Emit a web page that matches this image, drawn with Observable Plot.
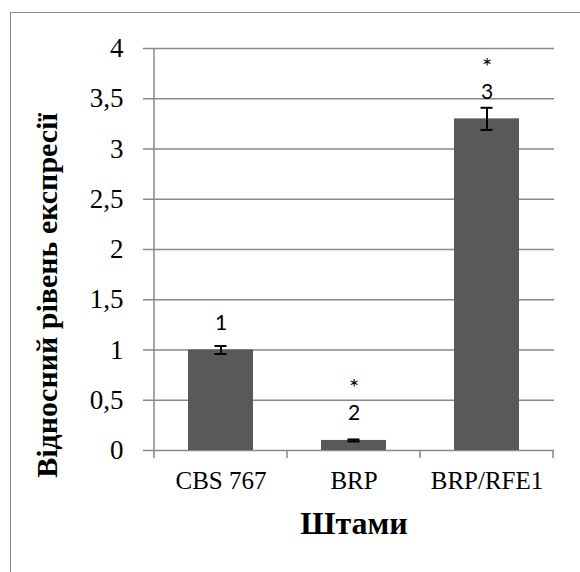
<!DOCTYPE html>
<html>
<head>
<meta charset="utf-8">
<script src="https://cdn.jsdelivr.net/npm/d3@7"></script>
<script src="https://cdn.jsdelivr.net/npm/@observablehq/plot@0.6"></script>
<style>
  html, body { margin: 0; padding: 0; background: #fff; }
  #wrap { position: relative; width: 580px; height: 572px; overflow: hidden; }
  #border { position: absolute; left: 10px; top: 12px; right: -10px; bottom: -10px;
            border-left: 1.5px solid #8a8a8a; border-top: 1.5px solid #8a8a8a; pointer-events: none; }
</style>
</head>
<body>
<div id="wrap"><div id="border"></div></div>
<script>
const categories = ["CBS 767", "BRP", "BRP/RFE1"];
const values = [1.0, 0.1, 3.30];
const errors = [0.04, 0.01, 0.11];
const groupLabels = ["1", "2", "3"];
const significance = ["", "*", "*"];
const yTicks = [0, 0.5, 1, 1.5, 2, 2.5, 3, 3.5, 4];
const yTitle = "Відносний рівень експресії";
const xTitle = "Штами";

const data = categories.map((c, i) => ({
  c, v: values[i], lo: values[i] - errors[i], hi: values[i] + errors[i],
  lab: groupLabels[i], sig: significance[i]
}));

const gray = "#898989";
const serif = "Liberation Serif, Times New Roman, serif";

function decor(index, scales) {
  const x = scales.x, y = scales.y;
  const ns = "http://www.w3.org/2000/svg";
  const g = document.createElementNS(ns, "g");
  g.setAttribute("stroke", gray);
  g.setAttribute("stroke-width", "1.5");
  const line = (x1, y1, x2, y2) => {
    const l = document.createElementNS(ns, "line");
    l.setAttribute("x1", x1); l.setAttribute("y1", y1);
    l.setAttribute("x2", x2); l.setAttribute("y2", y2);
    g.appendChild(l);
  };
  const bw = x.bandwidth ? x.bandwidth() : 0;
  const rng = x.range();
  const step = x.step ? x.step() : (rng[1] - rng[0]) / categories.length;
  const off = (step - bw) / 2;
  const y0 = y(0), yTop = y(yTicks[yTicks.length - 1]);
  const xs = categories.map(c => x(c) - off);
  xs.push(x(categories[categories.length - 1]) + bw + off);
  line(xs[0], yTop, xs[0], y0);
  xs.forEach(xb => line(xb, y0, xb, y0 + 8));
  return g;
}

const fmt = d => String(d).replace(".", ",");

const chart = Plot.plot({
  width: 580,
  height: 572,
  marginLeft: 153,
  marginRight: 26,
  marginTop: 48,
  marginBottom: 122,
  style: { fontFamily: serif, fontSize: "25px", color: "#000", background: "transparent" },
  x: { domain: categories, paddingInner: 0.514, paddingOuter: 0.257, axis: null },
  y: { domain: [0, 4], axis: null },
  marks: [
    Plot.ruleY(yTicks, { y: d => d, stroke: gray, strokeWidth: 1.5, insetLeft: -10 }),
    Plot.text(yTicks, { y: d => d, text: fmt, frameAnchor: "left", textAnchor: "end", lineAnchor: "middle",
      dx: -30, fontSize: 27, fontFamily: serif, fill: "#000" }),
    Plot.text(categories, { x: d => d, text: d => d, frameAnchor: "bottom", textAnchor: "middle",
      lineAnchor: "middle", dy: 30, fontSize: 25, fontFamily: serif, fill: "#000" }),
    Plot.barY(data, { x: "c", y: "v", fill: "#595959" }),
    decor,
    Plot.ruleX(data, { x: "c", y1: "lo", y2: "hi", stroke: "#000", strokeWidth: 2 }),
    Plot.tickY(data, { x: "c", y: "lo", stroke: "#000", strokeWidth: 2, insetLeft: 26.5, insetRight: 26.5 }),
    Plot.tickY(data, { x: "c", y: "hi", stroke: "#000", strokeWidth: 2, insetLeft: 26.5, insetRight: 26.5 }),
    Plot.text(data, { x: "c", y: "v", text: "lab", dy: -27, fontFamily: "Lato", fontSize: 21, fill: "#000" }),
    Plot.text(data, { x: "c", y: "v", text: "sig", dy: -52, fontFamily: "Lato", fontSize: 24, fill: "#000" }),
    Plot.text([yTitle], { text: d => d, frameAnchor: "left", textAnchor: "middle", lineAnchor: "middle",
      dx: -106, dy: 46, rotate: -90,
      fontWeight: "bold", fontSize: 30, fontFamily: serif, fill: "#000" }),
    Plot.text([xTitle], { text: d => d, frameAnchor: "bottom", textAnchor: "middle", lineAnchor: "middle",
      dy: 73, fontWeight: "bold", fontSize: 32, fontFamily: serif, fill: "#000" })
  ]
});
document.getElementById("wrap").insertBefore(chart, document.getElementById("border"));
</script>
</body>
</html>
